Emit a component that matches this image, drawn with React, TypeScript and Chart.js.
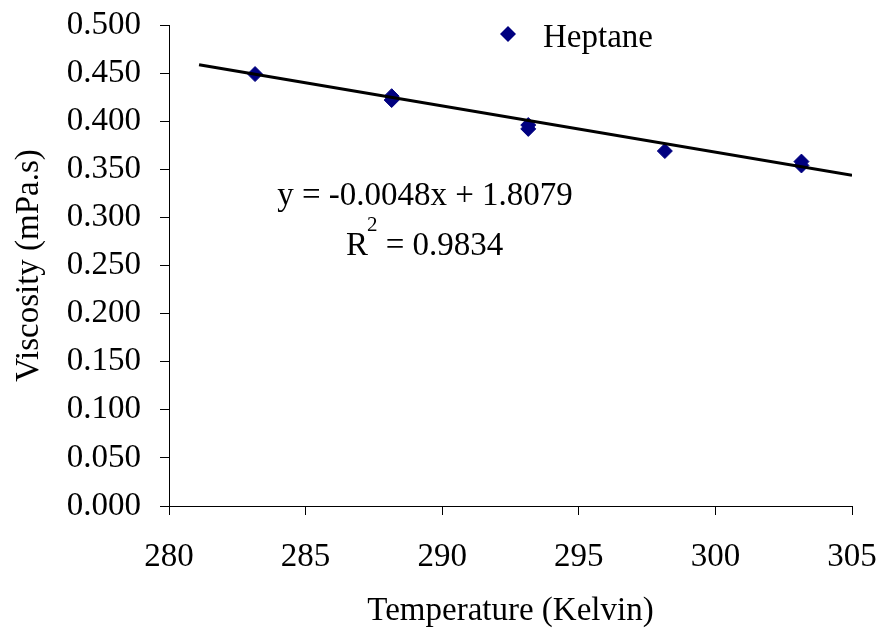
import { useEffect, useRef } from "react";
import { Chart, registerables } from "chart.js";

Chart.register(...registerables);

// Measured viscosity of heptane at each temperature (K)
const temperatures = [283.15, 288.15, 288.15, 293.15, 293.15, 298.15, 303.15, 303.15];
const viscosities = [0.449, 0.426, 0.422, 0.396, 0.392, 0.369, 0.358, 0.354];

// Linear trendline fitted to the measurements
const trendSlope = -0.0048;
const trendIntercept = 1.8079;
const trendRange = [281.1, 305];
const rSquared = 0.9834;

const seriesName = "Heptane";
const xTitle = "Temperature (Kelvin)";
const yTitle = "Viscosity (mPa.s)";

const xMin = 280;
const xMax = 305;
const xStep = 5;
const yMin = 0;
const yMax = 0.5;
const yStep = 0.05;

const FONT = '"Liberation Serif", "Times New Roman", serif';
const MARKER = "#000080";

// Legend entry and trendline equation drawn on top of the plot
const trendLabels = {
  id: "trendLabels",
  afterDraw(chart: any) {
    const ctx: CanvasRenderingContext2D = chart.ctx;
    ctx.save();

    // legend marker
    const lx = 508;
    const ly = 34;
    const r = 8;
    ctx.fillStyle = MARKER;
    ctx.beginPath();
    ctx.moveTo(lx, ly - r);
    ctx.lineTo(lx + r, ly);
    ctx.lineTo(lx, ly + r);
    ctx.lineTo(lx - r, ly);
    ctx.closePath();
    ctx.fill();

    ctx.fillStyle = "#000";
    ctx.font = `33px ${FONT}`;
    ctx.textBaseline = "alphabetic";
    ctx.textAlign = "left";
    ctx.fillText(seriesName, 543, 47);

    // trendline equation
    const sign = trendIntercept >= 0 ? "+" : "-";
    const eq = `y = ${trendSlope.toFixed(4)}x ${sign} ${Math.abs(trendIntercept).toFixed(4)}`;
    ctx.textAlign = "center";
    ctx.fillText(eq, 425, 205);

    // R squared with superscript
    ctx.textAlign = "left";
    ctx.fillText("R", 346, 255);
    const rw = ctx.measureText("R").width;
    ctx.font = `21px ${FONT}`;
    ctx.fillText("2", 346 + rw - 1, 231);
    const sw = ctx.measureText("2").width;
    ctx.font = `33px ${FONT}`;
    ctx.fillText(` = ${rSquared.toFixed(4)}`, 346 + rw - 1 + sw, 255);

    ctx.restore();
  },
};

export default function App() {
  const canvasRef = useRef<HTMLCanvasElement | null>(null);

  useEffect(() => {
    const canvas = canvasRef.current;
    if (!canvas) return;

    const points = temperatures.map((t, i) => ({ x: t, y: viscosities[i] }));
    const trend = trendRange.map((t) => ({ x: t, y: trendSlope * t + trendIntercept }));

    const tickFont = { family: FONT, size: 33 };

    const chart = new Chart(canvas, {
      type: "scatter",
      data: {
        datasets: [
          {
            type: "line",
            label: "Linear trend",
            data: trend,
            borderColor: "#000",
            borderWidth: 3,
            pointRadius: 0,
            fill: false,
            order: 0,
          } as any,
          {
            label: seriesName,
            data: points,
            pointStyle: "rectRot",
            pointRadius: 7.5,
            pointBackgroundColor: MARKER,
            pointBorderColor: MARKER,
            pointBorderWidth: 1,
            order: 1,
          },
        ],
      },
      options: {
        responsive: false,
        animation: false,
        devicePixelRatio: 1,
        layout: { padding: { top: 25, right: 29, bottom: 0, left: 0 } },
        plugins: {
          legend: { display: false },
          tooltip: { enabled: false },
        },
        scales: {
          x: {
            type: "linear",
            min: xMin,
            max: xMax,
            afterFit(scale: any) {
              scale.height = 130;
              scale.paddingLeft = 0;
              scale.paddingRight = 0;
              scale.paddingTop = 0;
              scale.paddingBottom = 0;
            },
            ticks: {
              stepSize: xStep,
              color: "#000",
              font: tickFont,
              padding: 23,
              callback: (v: any) => String(v),
            },
            grid: {
              drawOnChartArea: false,
              drawTicks: true,
              tickLength: 9,
              color: "#000",
              lineWidth: 1,
            },
            border: { display: true, color: "#000", width: 1 },
            title: {
              display: true,
              text: xTitle,
              color: "#000",
              font: tickFont,
              padding: { top: 0, bottom: 5 },
            },
          },
          y: {
            type: "linear",
            min: yMin,
            max: yMax,
            afterFit(scale: any) {
              scale.width = 169;
              scale.paddingLeft = 0;
              scale.paddingRight = 0;
              scale.paddingTop = 0;
              scale.paddingBottom = 0;
            },
            ticks: {
              stepSize: yStep,
              color: "#000",
              font: tickFont,
              padding: 19,
              callback: (v: any) => Number(v).toFixed(3),
            },
            grid: {
              drawOnChartArea: false,
              drawTicks: true,
              tickLength: 9,
              color: "#000",
              lineWidth: 1,
            },
            border: { display: true, color: "#000", width: 1 },
            title: {
              display: true,
              text: yTitle,
              color: "#000",
              font: tickFont,
              padding: { top: 10, bottom: 0 },
            },
          },
        },
      },
      plugins: [trendLabels],
    });

    return () => chart.destroy();
  }, []);

  return (
    <div style={{ position: "fixed", left: 0, top: 0, width: 881, height: 636, background: "#fff" }}>
      <canvas ref={canvasRef} width={881} height={636} />
    </div>
  );
}
